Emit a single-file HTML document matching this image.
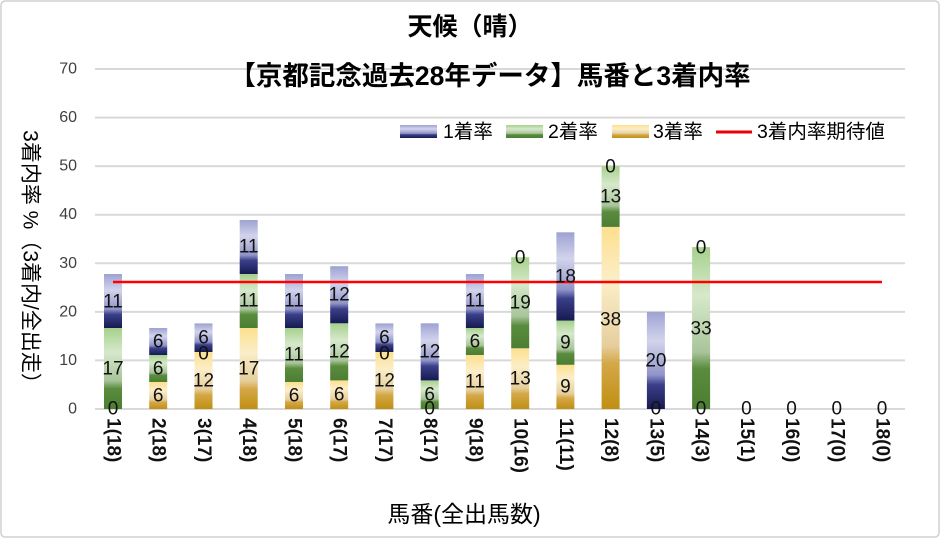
<!DOCTYPE html>
<html><head><meta charset="utf-8"><style>
body{margin:0;background:#fff}
svg{display:block;font-family:"Liberation Sans","Noto Sans CJK JP",sans-serif}
</style></head><body>
<svg width="941" height="539" viewBox="0 0 941 539" xmlns="http://www.w3.org/2000/svg">
<defs>
<linearGradient id="b" x1="0" y1="0" x2="0" y2="1"><stop offset="0" stop-color="#9ea2d2"/><stop offset="0.3" stop-color="#d2d4ec"/><stop offset="0.65" stop-color="#9094c8"/><stop offset="0.75" stop-color="#3a3f8a"/><stop offset="1" stop-color="#161a50"/></linearGradient>
<linearGradient id="g" x1="0" y1="0" x2="0" y2="1"><stop offset="0" stop-color="#a6d08c"/><stop offset="0.3" stop-color="#d6e9cb"/><stop offset="0.65" stop-color="#a8c49a"/><stop offset="0.75" stop-color="#5a8c3e"/><stop offset="1" stop-color="#4c7e32"/></linearGradient>
<linearGradient id="y" x1="0" y1="0" x2="0" y2="1"><stop offset="0" stop-color="#fde08e"/><stop offset="0.3" stop-color="#fbeec8"/><stop offset="0.65" stop-color="#e6cf9e"/><stop offset="0.75" stop-color="#d4a848"/><stop offset="1" stop-color="#c08f12"/></linearGradient>
</defs>
<rect x="1" y="1" width="938" height="536" rx="4" fill="#fff" stroke="#d0d0d0" stroke-width="1.5"/>
<g stroke="#d9d9d9" stroke-width="2">
<line x1="95" y1="409" x2="905" y2="409"/><line x1="95" y1="360.4" x2="905" y2="360.4"/><line x1="95" y1="311.9" x2="905" y2="311.9"/><line x1="95" y1="263.3" x2="905" y2="263.3"/><line x1="95" y1="214.7" x2="905" y2="214.7"/><line x1="95" y1="166.1" x2="905" y2="166.1"/><line x1="95" y1="117.6" x2="905" y2="117.6"/><line x1="95" y1="69" x2="905" y2="69"/>
</g>
<g font-size="16" fill="#404040" text-anchor="end" dominant-baseline="central">
<text x="77" y="409">0</text><text x="77" y="360.4">10</text><text x="77" y="311.9">20</text><text x="77" y="263.3">30</text><text x="77" y="214.7">40</text><text x="77" y="166.1">50</text><text x="77" y="117.6">60</text><text x="77" y="69">70</text>
</g>
<text x="470" y="27" font-size="25" font-weight="bold" text-anchor="middle" dominant-baseline="central">天候（晴）</text>
<text x="490" y="76" font-size="26.5" font-weight="bold" text-anchor="middle" dominant-baseline="central">【京都記念過去28年データ】馬番と3着内率</text>
<!-- legend -->
<rect x="400" y="125" width="37" height="13" fill="url(#b)"/><text x="443" y="132" font-size="19.5" dominant-baseline="central">1着率</text>
<rect x="506" y="125" width="37" height="13" fill="url(#g)"/><text x="548" y="132" font-size="19.5" dominant-baseline="central">2着率</text>
<rect x="612" y="125" width="37" height="13" fill="url(#y)"/><text x="653" y="132" font-size="19.5" dominant-baseline="central">3着率</text>
<line x1="716" y1="132" x2="752" y2="132" stroke="#e00" stroke-width="3"/><text x="757" y="132" font-size="19.5" dominant-baseline="central">3着内率期待値</text>
<!-- bars -->
<g>
<rect x="104" y="328" width="18" height="81" fill="url(#g)"/><rect x="104" y="274" width="18" height="54" fill="url(#b)"/>
<rect x="149.2" y="382" width="18" height="27" fill="url(#y)"/><rect x="149.2" y="355" width="18" height="27" fill="url(#g)"/><rect x="149.2" y="328" width="18" height="27" fill="url(#b)"/>
<rect x="194.5" y="352" width="18" height="57" fill="url(#y)"/><rect x="194.5" y="323.4" width="18" height="28.6" fill="url(#b)"/>
<rect x="239.7" y="328" width="18" height="81" fill="url(#y)"/><rect x="239.7" y="274" width="18" height="54" fill="url(#g)"/><rect x="239.7" y="220" width="18" height="54" fill="url(#b)"/>
<rect x="285" y="382" width="18" height="27" fill="url(#y)"/><rect x="285" y="328" width="18" height="54" fill="url(#g)"/><rect x="285" y="274" width="18" height="54" fill="url(#b)"/>
<rect x="330.2" y="380.4" width="18" height="28.6" fill="url(#y)"/><rect x="330.2" y="323.3" width="18" height="57.1" fill="url(#g)"/><rect x="330.2" y="266.2" width="18" height="57.1" fill="url(#b)"/>
<rect x="375.4" y="352" width="18" height="57" fill="url(#y)"/><rect x="375.4" y="323.4" width="18" height="28.6" fill="url(#b)"/>
<rect x="420.7" y="380.4" width="18" height="28.6" fill="url(#g)"/><rect x="420.7" y="323.3" width="18" height="57.1" fill="url(#b)"/>
<rect x="465.9" y="355" width="18" height="54" fill="url(#y)"/><rect x="465.9" y="328" width="18" height="27" fill="url(#g)"/><rect x="465.9" y="274" width="18" height="54" fill="url(#b)"/>
<rect x="511.2" y="348.3" width="18" height="60.7" fill="url(#y)"/><rect x="511.2" y="257.2" width="18" height="91.1" fill="url(#g)"/>
<rect x="556.4" y="364.8" width="18" height="44.2" fill="url(#y)"/><rect x="556.4" y="320.6" width="18" height="44.2" fill="url(#g)"/><rect x="556.4" y="232.3" width="18" height="88.3" fill="url(#b)"/>
<rect x="601.6" y="226.9" width="18" height="182.1" fill="url(#y)"/><rect x="601.6" y="166.2" width="18" height="60.7" fill="url(#g)"/>
<rect x="646.9" y="311.9" width="18" height="97.1" fill="url(#b)"/>
<rect x="692.1" y="247.1" width="18" height="161.9" fill="url(#g)"/>
</g>
<line x1="113" y1="282" x2="882" y2="282" stroke="#f00" stroke-width="2.5"/>
<g font-size="19" fill="#111" text-anchor="middle" dominant-baseline="central">
<text x="113" y="409">0</text><text x="113" y="369">17</text><text x="113" y="302">11</text>
<text x="158.2" y="396">6</text><text x="158.2" y="369">6</text><text x="158.2" y="342">6</text>
<text x="203.5" y="381">12</text><text x="203.5" y="354">0</text><text x="203.5" y="338">6</text>
<text x="248.7" y="369">17</text><text x="248.7" y="301">11</text><text x="248.7" y="247">11</text>
<text x="294" y="396">6</text><text x="294" y="355">11</text><text x="294" y="301">11</text>
<text x="339.2" y="395">6</text><text x="339.2" y="352">12</text><text x="339.2" y="295">12</text>
<text x="384.4" y="381">12</text><text x="384.4" y="354">0</text><text x="384.4" y="338">6</text>
<text x="429.7" y="409">0</text><text x="429.7" y="395">6</text><text x="429.7" y="352">12</text>
<text x="474.9" y="382">11</text><text x="474.9" y="342">6</text><text x="474.9" y="301">11</text>
<text x="520.2" y="379">13</text><text x="520.2" y="303">19</text><text x="520.2" y="258">0</text>
<text x="565.4" y="387">9</text><text x="565.4" y="343">9</text><text x="565.4" y="277">18</text>
<text x="610.6" y="320">38</text><text x="610.6" y="197">13</text><text x="610.6" y="167">0</text>
<text x="655.9" y="409">0</text><text x="655.9" y="361">20</text>
<text x="701.1" y="409">0</text><text x="701.1" y="329">33</text><text x="701.1" y="248">0</text>
<text x="746.4" y="409">0</text><text x="791.6" y="409">0</text><text x="836.8" y="409">0</text><text x="882.1" y="409">0</text>
</g>
<g font-size="19" font-weight="bold" fill="#111" dominant-baseline="central">
<text transform="translate(113,418) rotate(90)">1(18)</text>
<text transform="translate(158.2,418) rotate(90)">2(18)</text>
<text transform="translate(203.5,418) rotate(90)">3(17)</text>
<text transform="translate(248.7,418) rotate(90)">4(18)</text>
<text transform="translate(294,418) rotate(90)">5(18)</text>
<text transform="translate(339.2,418) rotate(90)">6(17)</text>
<text transform="translate(384.4,418) rotate(90)">7(17)</text>
<text transform="translate(429.7,418) rotate(90)">8(17)</text>
<text transform="translate(474.9,418) rotate(90)">9(18)</text>
<text transform="translate(520.2,418) rotate(90)">10(16)</text>
<text transform="translate(565.4,418) rotate(90)">11(11)</text>
<text transform="translate(610.6,418) rotate(90)">12(8)</text>
<text transform="translate(655.9,418) rotate(90)">13(5)</text>
<text transform="translate(701.1,418) rotate(90)">14(3)</text>
<text transform="translate(746.4,418) rotate(90)">15(1)</text>
<text transform="translate(791.6,418) rotate(90)">16(0)</text>
<text transform="translate(836.8,418) rotate(90)">17(0)</text>
<text transform="translate(882.1,418) rotate(90)">18(0)</text>
</g>
<text x="464" y="514" font-size="23" text-anchor="middle" dominant-baseline="central">馬番(全出馬数)</text>
<text transform="translate(30,262) rotate(90)" font-size="21" text-anchor="middle" dominant-baseline="central">3着内率 %（3着内/全出走）</text>
</svg>
</body></html>
